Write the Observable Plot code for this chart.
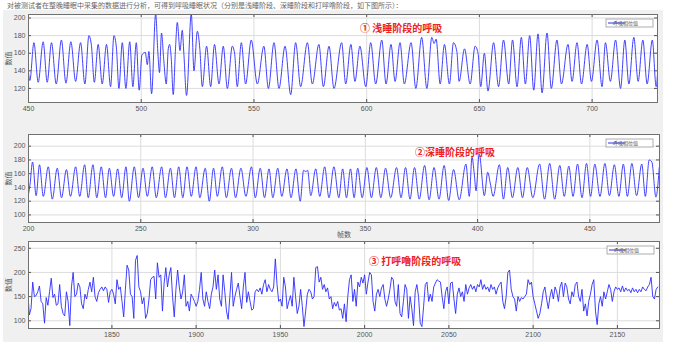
<!DOCTYPE html>
<html><head><meta charset="utf-8">
<script src="https://cdn.jsdelivr.net/npm/d3@7"></script>
<script src="https://cdn.jsdelivr.net/npm/@observablehq/plot@0.6"></script>
<style>
html,body{margin:0;padding:0;background:#fff;}
#wrap{position:relative;width:678px;height:357px;overflow:hidden;font-family:"Noto Sans CJK SC",sans-serif;}
#bg{position:absolute;left:3px;top:10px;width:660px;height:332px;background:#f0f0f0;}
#intro{position:absolute;left:7px;top:0px;font-size:7px;line-height:normal;color:#666;white-space:nowrap;}
.note{position:absolute;font-size:10px;line-height:10px;font-weight:bold;color:#ee2222;white-space:nowrap;z-index:5;}
</style></head><body>
<div id="wrap"><div id="bg"></div><div id="intro">对被测试者在整晚睡眠中采集的数据进行分析，可得到呼吸睡眠状况（分别是浅睡阶段、深睡阶段和打呼噜阶段，如下图所示）：</div></div>
<script>
// ---- Panel 1: light sleep ----
const p1Frames = [449.4,450.6,452.4,454.3,456.5,458.3,460.2,462.3,464.6,466.6,468.8,470.9,473.1,475.0,476.8,477.9,479.2,480.9,482.7,484.6,486.4,487.9,489.0,490.1,491.6,493.2,494.9,496.3,497.8,499.1,500.3,501.8,502.7,503.4,504.6,506.4,507.4,508.1,509.0,510.0,511.1,512.0,512.6,513.3,514.2,515.2,516.0,517.2,518.2,518.9,520.1,522.2,523.4,524.9,526.0,527.1,529.0,530.8,532.5,534.5,536.4,538.2,540.4,541.4,542.6,544.4,546.3,548.8,551.5,554.4,556.4,558.9,561.1,563.8,566.3,568.5,570.7,573.7,575.9,578.8,580.8,583.3,585.5,588.9,590.7,593.0,594.8,597.0,599.6,601.8,604.0,606.7,608.6,610.8,612.6,614.8,616.7,619.7,621.8,624.4,626.7,628.9,629.9,630.8,632.6,634.5,636.7,638.5,640.0,641.0,643.4,645.9,648.1,649.4,650.6,652.2,653.8,656.3,658.5,660.7,663.0,664.7,666.7,668.6,670.4,672.3,674.1,676.0,677.8,680.0,681.9,684.4,686.4,689.3,691.1,693.3,695.3,697.8,699.7,702.2,704.4,705.9,708.1,710.4,712.6,714.5,716.3,718.5,720.4,722.5,724.4,726.7,728.4,729.3];
const p1Values = [158,129,172,127,173,127,172,125,175,126,173,128,172,125,180,169,127,170,125,170,122,180,166,120,172,120,173,122,172,118,158,161,147,162,114,205,160,138,183,152,125,165,170,155,113,165,195,163,186,160,112,205,140,185,165,122,168,122,170,125,168,120,168,160,122,172,125,175,125,168,120,172,120,168,113,172,122,172,125,170,122,168,120,172,125,170,128,168,122,172,125,175,125,170,128,172,125,172,120,178,120,178,171,176,125,170,125,172,162,128,165,125,168,160,122,160,117,172,122,175,125,175,122,178,125,180,118,182,115,183,120,175,125,170,128,172,125,170,128,175,122,172,128,175,120,175,125,178,128,175,125,175,122,150];
// ---- Panel 2: deep sleep ----
const p2Frames = [200.0,200.7,201.8,203.4,204.9,206.6,208.8,210.6,212.8,214.7,216.9,218.7,221.0,222.8,225.0,226.6,228.7,230.4,232.4,234.3,236.0,237.9,239.7,241.5,243.4,244.9,247.1,249.0,251.0,252.9,255.1,256.9,259.3,261.0,263.2,265.0,266.9,268.7,270.6,272.5,274.6,276.3,278.7,280.5,282.4,284.1,286.3,288.1,290.4,292.2,294.6,296.8,299.3,301.0,303.2,305.1,307.1,308.8,311.0,312.8,315.1,316.9,319.1,321.0,322.5,323.5,324.3,325.7,327.9,329.7,331.9,333.8,336.0,338.2,339.9,341.6,343.4,345.0,346.6,348.6,350.7,352.7,354.9,356.9,359.0,361.3,363.9,365.9,367.9,369.9,371.9,374.0,376.4,378.4,380.6,382.8,385.1,387.1,389.3,391.8,394.8,396.3,397.5,398.5,399.3,400.7,403.0,404.5,405.7,406.9,409.7,411.5,413.4,415.5,417.9,420.0,422.1,424.6,427.6,429.8,432.1,434.3,436.6,438.6,440.6,442.5,444.5,446.5,448.5,450.3,452.2,454.5,456.7,458.7,460.9,462.9,464.9,466.7,468.7,470.8,473.1,474.7,476.4,477.6,479.4,480.9];
const p2Values = [130,145,177,128,173,127,170,123,168,125,166,127,170,127,173,125,173,125,170,125,168,127,167,125,170,120,170,125,168,127,170,125,170,125,168,125,170,125,170,127,170,125,168,120,168,127,170,125,168,125,168,127,170,125,168,125,167,125,168,127,167,125,167,120,165,163,165,128,167,127,170,125,170,125,167,125,167,125,168,125,169,125,169,125,168,125,169,125,169,123,169,123,172,122,169,123,172,121,166,122,174,127,184,160,135,189,128,162,145,127,173,123,169,125,169,125,169,125,174,123,175,123,172,127,171,127,174,125,175,127,174,127,175,128,173,127,174,127,175,128,174,127,180,177,126,169];
// ---- Panel 3: snoring (one value per frame from 1800) ----
const p3Start = 1800;
const p3Values = [165,112,125,180,150,152,160,172,140,135,95,148,132,160,188,148,155,132,135,175,130,115,110,160,140,90,170,200,150,155,178,170,135,125,155,145,165,180,160,190,150,140,158,165,170,162,170,165,138,160,165,155,135,185,165,170,140,108,165,215,205,155,150,105,225,235,170,160,135,148,105,115,145,185,190,192,145,220,190,195,120,178,210,170,195,210,150,108,165,205,170,145,160,195,130,140,120,155,148,140,130,140,165,200,145,130,160,140,125,155,170,205,165,195,145,130,195,160,120,103,150,200,130,150,165,178,150,125,170,200,138,160,140,122,125,160,165,160,168,155,175,185,160,175,165,160,170,228,175,140,145,130,190,170,125,140,152,130,190,150,115,130,165,130,88,120,155,165,160,145,150,210,212,180,190,165,175,160,168,145,150,125,138,130,140,122,
125,105,135,98,150,185,195,140,165,130,180,170,190,178,195,155,180,200,195,140,120,155,165,150,168,175,145,130,145,165,190,185,140,130,175,115,108,140,175,165,105,150,125,90,160,175,150,95,88,130,175,180,140,155,140,170,178,185,182,180,150,125,160,170,135,178,180,145,115,155,168,150,160,140,175,155,168,175,165,172,160,175,170,185,165,175,165,170,160,175,165,170,155,168,175,180,140,125,150,200,205,165,150,145,120,150,140,148,145,150,155,185,175,180,150,135,120,105,115,135,160,170,145,125,150,165,145,170,160,140,170,180,150,178,170,145,135,160,150,175,180,150,140,165,120,135,110,140,155,175,185,120,92,135,150,130,160,145,160,175,165,140,160,170,165,168,160,172,160,168,162,165,158,168,160,165,158,165,160,170,165,162,170,175,190,150,145,165,170];
const p3Frames = p3Values.map((_, i) => p3Start + i);

const legendLabel = "呼吸相位值";
const yLabel = "数值";
const xLabel = "帧数";
const notes = ["① 浅睡阶段的呼吸", "②深睡阶段的呼吸", "③ 打呼噜阶段的呼吸"];

const W = 678, H = 357;
const wrap = document.getElementById("wrap");
const lineColor = "#2b2bff";

function panel(o) {
  const data = o.x.map((x, i) => ({x, y: o.y[i]}));
  const fw = o.right - 28, fh = o.bottom - o.top;
  const marks = [
    Plot.frame({fill: "white", stroke: "none"}),
    Plot.gridX({ticks: o.xTicks, stroke: "#dcdcdc", strokeOpacity: 1}),
    Plot.gridY({ticks: o.yTicks, stroke: "#dcdcdc", strokeOpacity: 1}),
    Plot.line(data, {x: "x", y: "y", stroke: lineColor, strokeWidth: 0.9, curve: o.curve, clip: true}),
    Plot.ruleX(o.xTicks, {stroke: "#555", insetTop: fh - 3}),
    Plot.ruleX(o.xTicks, {stroke: "#555", insetBottom: fh - 3}),
    Plot.ruleY(o.yTicks, {stroke: "#555", insetRight: fw - 3}),
    Plot.ruleY(o.yTicks, {stroke: "#555", insetLeft: fw - 3}),
    Plot.frame({stroke: "#707070"}),
    Plot.axisX({ticks: o.xTicks, tickSize: 0, tickPadding: 4, label: null, fill: "#555", tickFormat: d3.format("d")}),
    Plot.axisY({ticks: o.yTicks, tickSize: 0, tickPadding: 3, label: null, fill: "#555", tickFormat: d3.format("d")}),
    Plot.text([yLabel], {text: d => d, frameAnchor: "left", dx: -20, rotate: -90, textAnchor: "middle", fontSize: 7, fill: "#555"})
  ];
  if (o.xLabel) marks.push(Plot.text([o.xLabel], {text: d => d, frameAnchor: "bottom", dy: 14, fontSize: 7, fill: "#555"}));
  const svg = Plot.plot({
    width: W, height: H,
    marginLeft: 28, marginRight: W - o.right, marginTop: o.top, marginBottom: H - o.bottom,
    style: {position: "absolute", left: "0px", top: "0px", background: "transparent",
            fontFamily: "'Liberation Sans','Noto Sans CJK SC',sans-serif", fontSize: "7px", color: "#555"},
    x: {domain: o.xDomain},
    y: {domain: o.yDomain},
    marks
  });
  // legend box
  const g = d3.select(svg).append("g");
  const lx = o.right - o.legInset - 47, ly = o.top + 5;
  g.append("rect").attr("x", lx).attr("y", ly).attr("width", 47).attr("height", 8)
    .attr("fill", "white").attr("stroke", "#9a9a9a").attr("stroke-width", 0.8);
  g.append("line").attr("x1", lx + 2).attr("x2", lx + 18).attr("y1", ly + 4).attr("y2", ly + 4)
    .attr("stroke", lineColor).attr("stroke-width", 1);
  g.append("text").attr("x", lx + 19.5).attr("y", ly + 4.2).attr("dominant-baseline", "middle")
    .attr("font-size", 5).attr("fill", "#555").attr("font-family", "'Noto Sans CJK SC',sans-serif").text(legendLabel);
  wrap.appendChild(svg);
}

panel({x: p1Frames, y: p1Values, xDomain: [450, 729], yDomain: [104, 204],
  xTicks: [450, 500, 550, 600, 650, 700],
  yTicks: [120, 140, 160, 180, 200], top: 14, bottom: 102, right: 657, legInset: 4, curve: "monotone-x"});
panel({x: p2Frames, y: p2Values, xDomain: [200, 481], yDomain: [89, 217],
  xTicks: [200, 250, 300, 350, 400, 450],
  yTicks: [100, 120, 140, 160, 180, 200], top: 134, bottom: 222, right: 659, legInset: 6, curve: "monotone-x", xLabel});
panel({x: p3Frames, y: p3Values, xDomain: [1800.5, 2175], yDomain: [84, 264],
  xTicks: [1850, 1900, 1950, 2000, 2050, 2100, 2150],
  yTicks: [100, 150, 200, 250], top: 241, bottom: 328, right: 659, legInset: 5, curve: "linear"});

const notePos = [[360, 23], [415, 147], [369, 256]];
notes.forEach((t, i) => {
  const d = document.createElement("div");
  d.className = "note";
  d.textContent = t;
  d.style.left = notePos[i][0] + "px";
  d.style.top = notePos[i][1] + "px";
  wrap.appendChild(d);
});
</script></body></html>
